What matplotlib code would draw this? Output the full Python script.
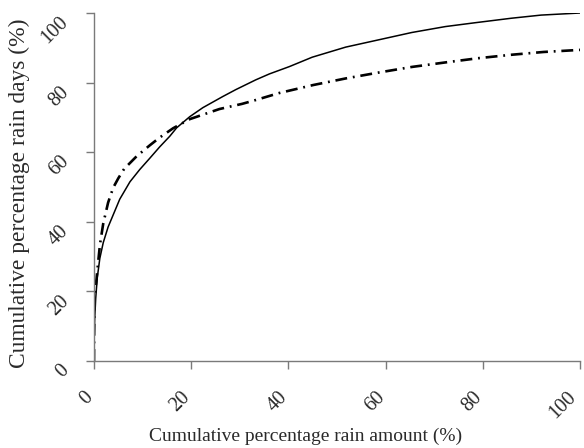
import numpy as np
import matplotlib
matplotlib.use("Agg")
import matplotlib.pyplot as plt
import matplotlib.transforms as mtransforms

# cumulative % rain amount (x) vs cumulative % rain days (y)
amount_a = [0, 0.05, 0.14, 0.35, 0.68, 1.2, 1.9, 2.9, 3.95, 5.3, 7.4, 9.4, 11.5,
            13.5, 15.6, 17.0, 19.7, 22.4, 26.5, 29.2, 33.3, 36.1, 40.2, 44.9,
            51.8, 58.6, 65.4, 72.3, 78.4, 85.9, 92.0, 100]
days_a = [0, 8, 12, 18, 24, 29.5, 34, 38.5, 42, 46.5, 51.5, 55, 58.3,
          61.5, 64.6, 67.0, 70.2, 72.8, 76.0, 78.0, 80.8, 82.5, 84.6, 87.3,
          90.2, 92.3, 94.4, 96.1, 97.2, 98.5, 99.4, 100]

amount_b = [0, 0.05, 0.14, 0.55, 0.9, 1.23, 1.9, 2.9, 3.95, 5.0, 6.2, 8.75, 11.5,
            13.5, 16.3, 19.7, 25.8, 30.5, 33.3, 38.1, 45.1, 51.8, 58.6, 65.4,
            72.3, 79.0, 85.9, 92.5, 100]
days_b = [0, 12, 18.6, 24, 29, 33.5, 39.5, 45.5, 49.8, 52.5, 55.2, 58.8, 62.0,
          64.2, 66.9, 69.5, 72.4, 73.9, 75.0, 77.0, 79.3, 81.2, 82.9, 84.5,
          85.8, 87.0, 88.0, 88.8, 89.4]

ticks = [0, 20, 40, 60, 80, 100]

plt.rcParams['font.family'] = ['Liberation Serif', 'DejaVu Serif']
text_col = '#2a2a2a'
axis_col = '#7a7a7a'

fig = plt.figure(figsize=(5.84, 4.48), dpi=100)
ax = fig.add_axes([94 / 584, 87 / 448, 486 / 584, 348 / 448])

ax.plot(amount_a, days_a, color='black', lw=1.1, solid_joinstyle='round')
ax.plot(amount_b, days_b, color='black', lw=1.9,
        dashes=(4.5, 2.2, 0.7, 2.2), dash_capstyle='butt')

ax.set_xlim(0, 100)
ax.set_ylim(0, 100)
ax.set_xticks(ticks)
ax.set_yticks(ticks)
ax.set_xticklabels([str(t) for t in ticks], rotation=45, ha='right', va='top',
                   fontsize=14.5, color=text_col)
ax.set_yticklabels([str(t) for t in ticks], rotation=45, ha='right', va='top',
                   fontsize=14.5, color=text_col)
ax.tick_params(axis='x', direction='out', length=5.5, width=1, color=axis_col, pad=14)
ax.tick_params(axis='y', direction='out', length=5.5, width=1, color=axis_col, pad=10)

# nudge x tick labels a few pixels right (last one stays inside the figure)
for lab in ax.get_xticklabels()[:-1]:
    shift = mtransforms.ScaledTranslation(3 / 100, 0, fig.dpi_scale_trans)
    lab.set_transform(lab.get_transform() + shift)

for side in ['top', 'right']:
    ax.spines[side].set_visible(False)
for side in ['left', 'bottom']:
    ax.spines[side].set_color(axis_col)
    ax.spines[side].set_linewidth(1)

fig.text(306 / 584, 12 / 448, 'Cumulative percentage rain amount (%)',
         ha='center', va='center', fontsize=14, color=text_col)
fig.text(19 / 584, 1 - 193.5 / 448, 'Cumulative percentage rain days (%)',
         ha='center', va='center', rotation=90, fontsize=16.9, color=text_col)

fig.savefig('out.png', dpi=100)
